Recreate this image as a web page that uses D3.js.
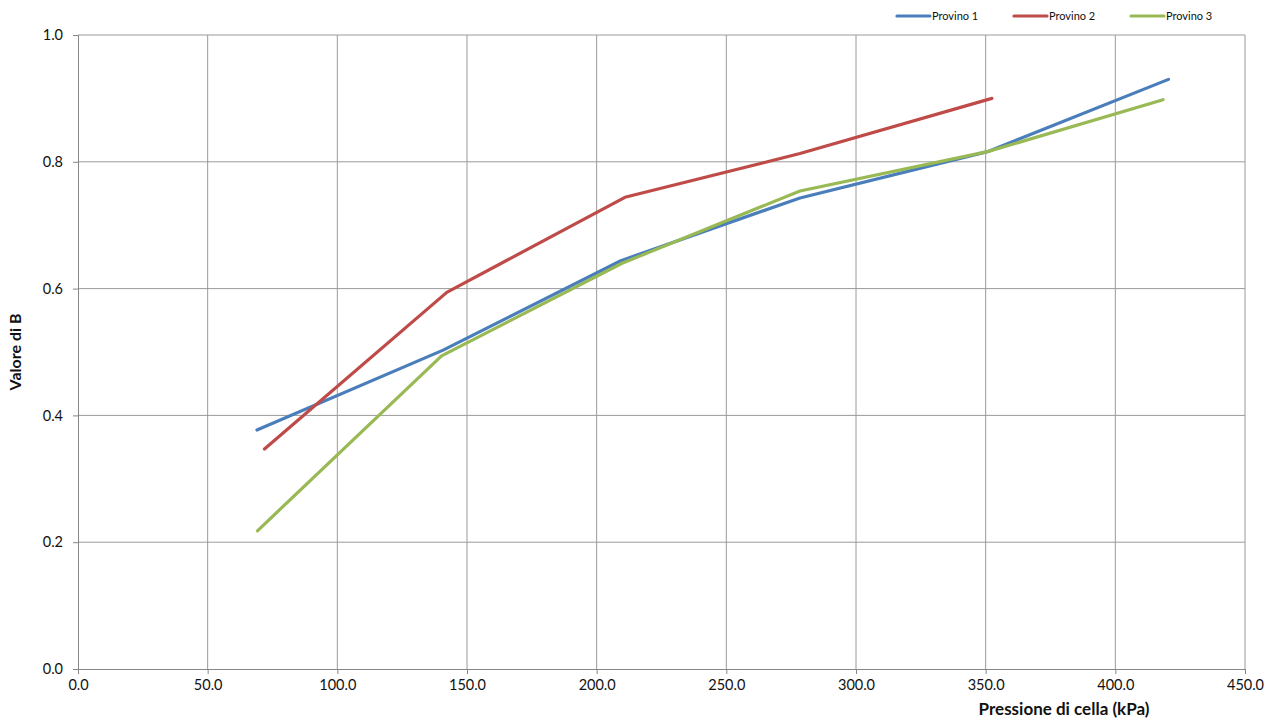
<!DOCTYPE html>
<html><head><meta charset="utf-8">
<script src="https://cdn.jsdelivr.net/npm/d3@7"></script>
<style>body{margin:0;background:#fff;} svg{display:block;font-family:Lato,"Open Sans",sans-serif;}</style>
</head><body>
<svg id="c" width="1272" height="720"></svg>
<script>
const seriesNames = ["Provino 1", "Provino 2", "Provino 3"];
const seriesColors = ["#4a7ebb", "#be4b48", "#98b954"];
const p1x = [69.0, 140.8, 209.3, 278.4, 350.7, 420.5];
const p1y = [0.377, 0.503, 0.644, 0.743, 0.816, 0.930];
const p2x = [71.9, 142.2, 210.9, 278.4, 352.4];
const p2y = [0.347, 0.594, 0.744, 0.813, 0.900];
const p3x = [69.2, 140.2, 209.8, 278.4, 350.7, 418.4];
const p3y = [0.218, 0.494, 0.640, 0.754, 0.816, 0.898];
const xTicks = [0, 50, 100, 150, 200, 250, 300, 350, 400, 450];
const yTicks = [0, 0.2, 0.4, 0.6, 0.8, 1.0];

const series = [[p1x,p1y],[p2x,p2y],[p3x,p3y]].map((s,i)=>({name:seriesNames[i],color:seriesColors[i],pts:s[0].map((x,j)=>[x,s[1][j]])}));

const svg = d3.select("#c");
const L=78,R=1245,T=35,B=669;
const x = d3.scaleLinear().domain([0,450]).range([L,R]);
const y = d3.scaleLinear().domain([0,1]).range([B,T]);

svg.append("g").selectAll("line").data(yTicks.filter(d=>d>0)).join("line")
  .attr("x1",L).attr("x2",R).attr("y1",d=>y(d)).attr("y2",d=>y(d))
  .attr("stroke","#9a9a9a").attr("stroke-width",1);
svg.append("g").selectAll("line").data(xTicks.filter(d=>d>0)).join("line")
  .attr("x1",d=>x(d)).attr("x2",d=>x(d)).attr("y1",T).attr("y2",B)
  .attr("stroke","#9a9a9a").attr("stroke-width",1);

const xa = svg.append("g").attr("transform",`translate(0,${B})`)
  .call(d3.axisBottom(x).tickValues(xTicks).tickFormat(d3.format(".1f")).tickSizeOuter(0).tickSize(5).tickPadding(6));
const ya = svg.append("g").attr("transform",`translate(${L},0)`)
  .call(d3.axisLeft(y).tickValues(yTicks).tickFormat(d3.format(".1f")).tickSizeOuter(0).tickSize(5).tickPadding(10));
[xa,ya].forEach(a=>{
  a.select(".domain").attr("stroke","#868686");
  a.selectAll(".tick line").attr("stroke","#868686");
  a.selectAll("text").attr("font-size",14.5).attr("fill","#111").attr("font-family","Lato,sans-serif");
});

const line = d3.line().x(d=>x(d[0])).y(d=>y(d[1]));
svg.append("g").selectAll("path").data(series).join("path")
  .attr("d",d=>line(d.pts)).attr("fill","none").attr("stroke",d=>d.color)
  .attr("stroke-width",3.2).attr("stroke-linejoin","round").attr("stroke-linecap","round");

svg.append("text").attr("x",1064).attr("y",715).attr("text-anchor","middle")
  .attr("font-size",17).attr("font-weight","bold").attr("fill","#111").text("Pressione di cella (kPa)");
svg.append("text").attr("transform","translate(21,352) rotate(-90)").attr("text-anchor","middle")
  .attr("font-size",16).attr("font-weight","bold").attr("fill","#111").text("Valore di B");

const lg = svg.append("g").selectAll("g").data(series).join("g")
  .attr("transform",(d,i)=>`translate(${897+i*117},16)`);
lg.append("line").attr("x1",0).attr("x2",33).attr("stroke",d=>d.color).attr("stroke-width",3.2).attr("stroke-linecap","round");
lg.append("text").attr("x",35).attr("y",4).attr("font-size",11).attr("fill","#111").text(d=>d.name);
</script>
</body></html>
